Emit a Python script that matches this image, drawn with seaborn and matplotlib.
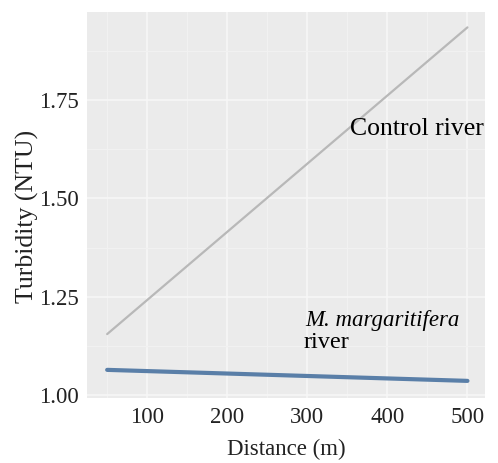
import pandas as pd
import matplotlib.pyplot as plt
import seaborn as sns

# 값
distance = [50, 500]
control_turbidity = [1.155, 1.935]
margaritifera_turbidity = [1.064, 1.036]
x_ticks = [100, 200, 300, 400, 500]
y_ticks = [1.00, 1.25, 1.50, 1.75]

df = pd.DataFrame({
    "distance": distance * 2,
    "turbidity": control_turbidity + margaritifera_turbidity,
    "river": ["Control"] * 2 + ["M. margaritifera"] * 2,
})

sns.set_theme(style="darkgrid", rc={
    "axes.facecolor": "#ebebeb",
    "grid.color": "white",
})
plt.rcParams["font.family"] = ["Liberation Serif", "DejaVu Serif"]

fig = plt.figure(figsize=(4.98, 4.63), dpi=100)
ax = fig.add_axes([0.175, 0.140, 0.799, 0.834])

sns.lineplot(data=df, x="distance", y="turbidity", hue="river",
             palette={"Control": "#b8b8b8", "M. margaritifera": "#5a7fa8"},
             legend=False, ax=ax)
ax.lines[0].set_linewidth(1.6)
ax.lines[1].set_linewidth(3.0)

ax.set_xlim(25, 522)
ax.set_ylim(0.992, 1.974)
ax.set_xticks(x_ticks)
ax.set_xticklabels([str(t) for t in x_ticks])
ax.set_yticks(y_ticks)
ax.set_yticklabels([f"{t:.2f}" for t in y_ticks])
ax.set_xticks([50, 150, 250, 350, 450], minor=True)
ax.set_yticks([1.125, 1.375, 1.625, 1.875], minor=True)
ax.grid(which="major", color="#f7f7f7", linewidth=1.2)
ax.grid(which="minor", color="#f1f1f1", linewidth=0.8)
ax.tick_params(which="major", length=3, color="#c8d0dc", labelsize=16.5, labelcolor="#222222", pad=3)
ax.tick_params(which="minor", length=0)
for s in ax.spines.values():
    s.set_visible(False)

ax.set_xlabel("Distance (m)", fontsize=16.5, color="#222222", labelpad=8)
ax.set_ylabel("Turbidity (NTU)", fontsize=18.5, color="#222222")
ax.yaxis.set_label_coords(-0.12, 0.47)

ax.text(353, 1.661, "Control river", fontsize=18.5, va="baseline", ha="left", color="black")
ax.text(297, 1.176, "M. margaritifera", fontsize=16.5, style="italic", va="baseline", ha="left", color="black")
ax.text(295, 1.119, "river", fontsize=17.5, va="baseline", ha="left", color="black")

fig.savefig("out.png", dpi=100)
